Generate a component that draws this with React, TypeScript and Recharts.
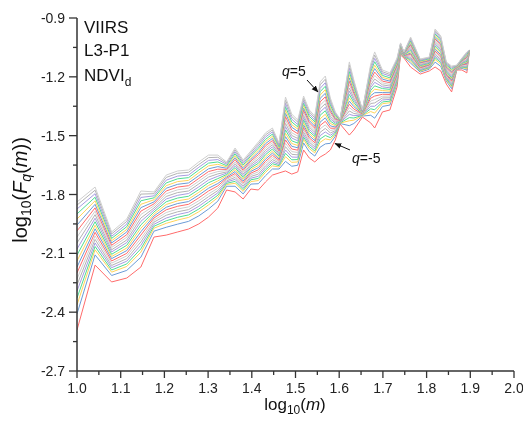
import React from 'react';
import { LineChart, Line, XAxis, YAxis } from 'recharts';

// log10(m) for the scales m = 10..79 that carry the visible vertices
const logM = [1.0, 1.0414, 1.0792, 1.1139, 1.1461, 1.1761, 1.2041, 1.2304, 1.2553, 1.2788, 1.301, 1.3222, 1.3424, 1.3617, 1.3802, 1.3979, 1.415, 1.4314, 1.4472, 1.4624, 1.4771, 1.4914, 1.5051, 1.5185, 1.5315, 1.5441, 1.5563, 1.5682, 1.5798, 1.5911, 1.6021, 1.6232, 1.6335, 1.6532, 1.6721, 1.6812, 1.699, 1.716, 1.7324, 1.7404, 1.7482, 1.7634, 1.7853, 1.8062, 1.8195, 1.8325, 1.8451, 1.8573, 1.8692, 1.8808, 1.8921, 1.8976];

// q values, order of the entries in every scale array below
const qValues = [5, 4.5, 4, 3.5, 3, 2.5, 2, 1.5, 1, 0.5, 0, -0.5, -1, -1.5, -2, -2.5, -3, -3.5, -4, -4.5, -5];

// log10(Fq(m)) at each scale, q = 5 ... -5
const f10 = [-1.838,-1.854,-1.874,-1.899,-1.925,-1.956,-1.986,-2.017,-2.047,-2.078,-2.109,-2.139,-2.170,-2.200,-2.231,-2.261,-2.292,-2.328,-2.363,-2.409,-2.491];
const f11 = [-1.762,-1.778,-1.796,-1.814,-1.832,-1.850,-1.868,-1.885,-1.903,-1.921,-1.939,-1.957,-1.975,-1.993,-2.011,-2.029,-2.047,-2.065,-2.082,-2.108,-2.160];
const f12 = [-1.991,-2.001,-2.013,-2.024,-2.036,-2.047,-2.059,-2.070,-2.082,-2.093,-2.105,-2.116,-2.127,-2.139,-2.150,-2.162,-2.173,-2.185,-2.196,-2.213,-2.246];
const f13 = [-1.925,-1.937,-1.951,-1.964,-1.978,-1.991,-2.005,-2.018,-2.032,-2.045,-2.059,-2.073,-2.086,-2.100,-2.113,-2.127,-2.140,-2.154,-2.167,-2.187,-2.226];
const f14 = [-1.782,-1.798,-1.815,-1.832,-1.850,-1.867,-1.885,-1.902,-1.920,-1.937,-1.955,-1.972,-1.990,-2.007,-2.025,-2.042,-2.059,-2.077,-2.094,-2.120,-2.170];
const f15 = [-1.787,-1.796,-1.807,-1.817,-1.827,-1.838,-1.848,-1.858,-1.869,-1.879,-1.889,-1.900,-1.910,-1.920,-1.931,-1.941,-1.952,-1.962,-1.972,-1.987,-2.017];
const f16 = [-1.701,-1.713,-1.727,-1.741,-1.755,-1.768,-1.782,-1.796,-1.810,-1.823,-1.837,-1.851,-1.865,-1.878,-1.892,-1.906,-1.920,-1.934,-1.947,-1.967,-2.007];
const f17 = [-1.680,-1.692,-1.706,-1.720,-1.734,-1.748,-1.762,-1.776,-1.790,-1.804,-1.818,-1.832,-1.846,-1.860,-1.874,-1.888,-1.902,-1.916,-1.930,-1.951,-1.991];
const f18 = [-1.675,-1.687,-1.701,-1.714,-1.728,-1.741,-1.755,-1.768,-1.782,-1.795,-1.809,-1.823,-1.836,-1.850,-1.863,-1.877,-1.890,-1.904,-1.917,-1.937,-1.976];
const f19 = [-1.634,-1.647,-1.661,-1.675,-1.689,-1.704,-1.718,-1.732,-1.746,-1.761,-1.775,-1.789,-1.803,-1.817,-1.832,-1.846,-1.860,-1.874,-1.888,-1.909,-1.950];
const f20 = [-1.599,-1.612,-1.626,-1.640,-1.654,-1.669,-1.683,-1.697,-1.711,-1.726,-1.740,-1.754,-1.768,-1.782,-1.797,-1.811,-1.825,-1.839,-1.853,-1.874,-1.915];
const f21 = [-1.599,-1.610,-1.622,-1.634,-1.646,-1.658,-1.671,-1.683,-1.695,-1.707,-1.719,-1.731,-1.744,-1.756,-1.768,-1.780,-1.792,-1.804,-1.816,-1.834,-1.869];
const f22 = [-1.634,-1.640,-1.646,-1.653,-1.659,-1.666,-1.672,-1.678,-1.685,-1.691,-1.698,-1.704,-1.711,-1.717,-1.723,-1.730,-1.736,-1.743,-1.749,-1.758,-1.777];
const f23 = [-1.563,-1.572,-1.582,-1.592,-1.602,-1.612,-1.622,-1.633,-1.643,-1.653,-1.663,-1.673,-1.683,-1.693,-1.703,-1.713,-1.723,-1.733,-1.743,-1.758,-1.787];
const f24 = [-1.624,-1.632,-1.641,-1.650,-1.659,-1.668,-1.677,-1.686,-1.695,-1.704,-1.713,-1.722,-1.731,-1.740,-1.748,-1.757,-1.766,-1.775,-1.784,-1.797,-1.823];
const f25 = [-1.578,-1.586,-1.595,-1.603,-1.612,-1.621,-1.629,-1.638,-1.647,-1.656,-1.664,-1.673,-1.682,-1.691,-1.699,-1.708,-1.717,-1.725,-1.734,-1.747,-1.772];
const f26 = [-1.532,-1.542,-1.553,-1.564,-1.575,-1.586,-1.597,-1.608,-1.619,-1.630,-1.641,-1.652,-1.663,-1.674,-1.685,-1.696,-1.707,-1.718,-1.729,-1.745,-1.777];
const f27 = [-1.486,-1.496,-1.507,-1.519,-1.530,-1.541,-1.552,-1.564,-1.575,-1.586,-1.597,-1.609,-1.620,-1.631,-1.642,-1.654,-1.665,-1.676,-1.687,-1.704,-1.736];
const f28 = [-1.461,-1.471,-1.481,-1.492,-1.503,-1.514,-1.525,-1.535,-1.546,-1.557,-1.568,-1.579,-1.589,-1.600,-1.611,-1.622,-1.633,-1.643,-1.654,-1.670,-1.701];
const f29 = [-1.537,-1.543,-1.550,-1.557,-1.564,-1.571,-1.578,-1.585,-1.591,-1.598,-1.605,-1.612,-1.619,-1.626,-1.633,-1.640,-1.647,-1.653,-1.660,-1.670,-1.690];
const f30 = [-1.303,-1.318,-1.335,-1.352,-1.369,-1.386,-1.403,-1.420,-1.437,-1.454,-1.471,-1.488,-1.505,-1.522,-1.539,-1.556,-1.573,-1.590,-1.607,-1.631,-1.680];
const f31 = [-1.390,-1.402,-1.416,-1.430,-1.444,-1.457,-1.471,-1.485,-1.499,-1.512,-1.526,-1.540,-1.554,-1.568,-1.581,-1.595,-1.609,-1.623,-1.636,-1.656,-1.696];
const f32 = [-1.420,-1.431,-1.443,-1.455,-1.466,-1.478,-1.490,-1.502,-1.514,-1.526,-1.538,-1.550,-1.562,-1.574,-1.586,-1.598,-1.610,-1.622,-1.634,-1.651,-1.685];
const f33 = [-1.298,-1.309,-1.321,-1.334,-1.346,-1.359,-1.371,-1.383,-1.396,-1.408,-1.420,-1.433,-1.445,-1.458,-1.470,-1.482,-1.495,-1.507,-1.519,-1.537,-1.573];
const f34 = [-1.369,-1.379,-1.390,-1.401,-1.412,-1.423,-1.434,-1.445,-1.456,-1.467,-1.478,-1.489,-1.500,-1.511,-1.522,-1.533,-1.544,-1.555,-1.566,-1.582,-1.614];
const f35 = [-1.400,-1.409,-1.420,-1.430,-1.441,-1.452,-1.462,-1.473,-1.483,-1.494,-1.504,-1.515,-1.525,-1.536,-1.546,-1.557,-1.567,-1.578,-1.588,-1.604,-1.634];
const f36 = [-1.226,-1.241,-1.259,-1.276,-1.293,-1.310,-1.328,-1.345,-1.362,-1.379,-1.396,-1.414,-1.431,-1.448,-1.465,-1.483,-1.500,-1.517,-1.534,-1.559,-1.609];
const f37 = [-1.196,-1.212,-1.230,-1.248,-1.266,-1.284,-1.302,-1.319,-1.337,-1.355,-1.373,-1.391,-1.409,-1.427,-1.445,-1.463,-1.481,-1.499,-1.516,-1.542,-1.594];
const f38 = [-1.308,-1.319,-1.331,-1.343,-1.354,-1.366,-1.378,-1.390,-1.402,-1.414,-1.426,-1.438,-1.450,-1.462,-1.474,-1.486,-1.498,-1.510,-1.522,-1.539,-1.573];
const f39 = [-1.379,-1.385,-1.391,-1.398,-1.404,-1.411,-1.417,-1.423,-1.430,-1.436,-1.443,-1.449,-1.456,-1.462,-1.468,-1.475,-1.481,-1.488,-1.494,-1.503,-1.522];
const f40 = [-1.415,-1.416,-1.417,-1.418,-1.420,-1.421,-1.422,-1.423,-1.424,-1.425,-1.427,-1.428,-1.429,-1.430,-1.431,-1.432,-1.433,-1.435,-1.436,-1.438,-1.441];
const f42 = [-1.124,-1.139,-1.156,-1.173,-1.189,-1.206,-1.223,-1.240,-1.257,-1.273,-1.290,-1.307,-1.324,-1.340,-1.357,-1.374,-1.391,-1.408,-1.424,-1.449,-1.497];
const f43 = [-1.216,-1.226,-1.238,-1.249,-1.261,-1.272,-1.284,-1.295,-1.307,-1.318,-1.330,-1.341,-1.352,-1.364,-1.375,-1.387,-1.398,-1.410,-1.421,-1.438,-1.471];
const f45 = [-1.369,-1.370,-1.372,-1.374,-1.375,-1.377,-1.379,-1.380,-1.382,-1.383,-1.385,-1.387,-1.388,-1.390,-1.391,-1.393,-1.395,-1.396,-1.398,-1.400,-1.405];
const f47 = [-1.135,-1.147,-1.161,-1.174,-1.188,-1.201,-1.215,-1.228,-1.242,-1.255,-1.269,-1.282,-1.296,-1.309,-1.323,-1.336,-1.350,-1.363,-1.377,-1.396,-1.435];
const f48 = [-1.073,-1.089,-1.106,-1.123,-1.141,-1.158,-1.176,-1.193,-1.211,-1.228,-1.246,-1.263,-1.281,-1.298,-1.316,-1.333,-1.350,-1.368,-1.385,-1.411,-1.461];
const f50 = [-1.165,-1.174,-1.183,-1.193,-1.203,-1.212,-1.222,-1.231,-1.241,-1.251,-1.260,-1.270,-1.280,-1.289,-1.299,-1.308,-1.318,-1.328,-1.337,-1.351,-1.379];
const f52 = [-1.180,-1.188,-1.196,-1.205,-1.213,-1.222,-1.230,-1.239,-1.247,-1.256,-1.264,-1.273,-1.281,-1.290,-1.298,-1.307,-1.315,-1.324,-1.332,-1.344,-1.369];
const f54 = [-1.104,-1.110,-1.117,-1.123,-1.130,-1.137,-1.143,-1.150,-1.157,-1.163,-1.170,-1.177,-1.183,-1.190,-1.197,-1.203,-1.210,-1.217,-1.223,-1.233,-1.252];
const f55 = [-1.027,-1.030,-1.032,-1.035,-1.038,-1.041,-1.043,-1.046,-1.049,-1.052,-1.055,-1.057,-1.060,-1.063,-1.066,-1.069,-1.071,-1.074,-1.077,-1.081,-1.089];
const f56 = [-1.073,-1.074,-1.076,-1.077,-1.078,-1.080,-1.081,-1.083,-1.084,-1.085,-1.087,-1.088,-1.090,-1.091,-1.092,-1.094,-1.095,-1.097,-1.098,-1.100,-1.104];
const f58 = [-0.997,-1.003,-1.010,-1.017,-1.024,-1.031,-1.038,-1.045,-1.051,-1.058,-1.065,-1.072,-1.079,-1.086,-1.093,-1.100,-1.107,-1.113,-1.120,-1.130,-1.150];
const f61 = [-1.109,-1.112,-1.116,-1.119,-1.123,-1.126,-1.129,-1.133,-1.136,-1.140,-1.143,-1.147,-1.150,-1.154,-1.157,-1.161,-1.164,-1.168,-1.171,-1.176,-1.186];
const f64 = [-1.099,-1.102,-1.105,-1.108,-1.111,-1.115,-1.118,-1.121,-1.124,-1.127,-1.131,-1.134,-1.137,-1.140,-1.143,-1.147,-1.150,-1.153,-1.156,-1.161,-1.170];
const f66 = [-0.956,-0.964,-0.973,-0.981,-0.990,-0.999,-1.007,-1.016,-1.025,-1.034,-1.042,-1.051,-1.060,-1.069,-1.077,-1.086,-1.095,-1.103,-1.112,-1.125,-1.150];
const f68 = [-0.992,-0.999,-1.007,-1.015,-1.023,-1.031,-1.039,-1.047,-1.055,-1.063,-1.071,-1.079,-1.087,-1.095,-1.103,-1.111,-1.119,-1.127,-1.135,-1.147,-1.170];
const f70 = [-1.124,-1.129,-1.134,-1.139,-1.144,-1.149,-1.154,-1.159,-1.164,-1.169,-1.174,-1.179,-1.184,-1.190,-1.195,-1.200,-1.205,-1.210,-1.215,-1.222,-1.237];
const f72 = [-1.145,-1.150,-1.156,-1.162,-1.168,-1.174,-1.180,-1.186,-1.192,-1.198,-1.204,-1.210,-1.216,-1.222,-1.228,-1.233,-1.239,-1.245,-1.251,-1.260,-1.277];
const f74 = [-1.140,-1.141,-1.142,-1.143,-1.144,-1.146,-1.147,-1.148,-1.149,-1.150,-1.151,-1.152,-1.153,-1.155,-1.156,-1.157,-1.158,-1.159,-1.160,-1.162,-1.165];
const f76 = [-1.104,-1.106,-1.109,-1.112,-1.115,-1.117,-1.120,-1.123,-1.126,-1.128,-1.131,-1.134,-1.137,-1.139,-1.142,-1.145,-1.148,-1.150,-1.153,-1.157,-1.165];
const f78 = [-1.073,-1.077,-1.082,-1.087,-1.092,-1.097,-1.101,-1.106,-1.111,-1.116,-1.121,-1.125,-1.130,-1.135,-1.140,-1.145,-1.149,-1.154,-1.159,-1.166,-1.180];
const f79 = [-1.063,-1.063,-1.064,-1.064,-1.065,-1.065,-1.066,-1.066,-1.067,-1.067,-1.068,-1.068,-1.069,-1.069,-1.070,-1.070,-1.071,-1.071,-1.072,-1.072,-1.073];

const scaleCols = [f10, f11, f12, f13, f14, f15, f16, f17, f18, f19, f20, f21, f22, f23, f24, f25, f26, f27, f28, f29, f30, f31, f32, f33, f34, f35, f36, f37, f38, f39, f40, f42, f43, f45, f47, f48, f50, f52, f54, f55, f56, f58, f61, f64, f66, f68, f70, f72, f74, f76, f78, f79];

// ticks
const xMajor = [1.0, 1.1, 1.2, 1.3, 1.4, 1.5, 1.6, 1.7, 1.8, 1.9, 2.0];
const xMinor = [1.05, 1.15, 1.25, 1.35, 1.45, 1.55, 1.65, 1.75, 1.85, 1.95];
const yMajor = [-2.7, -2.4, -2.1, -1.8, -1.5, -1.2, -0.9];
const yMinor = [-2.55, -2.25, -1.95, -1.65, -1.35, -1.05];

// colour cycle, counted from q = -5 upward
const palette = ['#ff6b6b', '#6b9bd6', '#ffd45a', '#4fdc93', '#a79ce0', '#b3b3b3', '#cfcfcf'];

const rows = logM.map((x, i) => {
  const r: Record<string, number> = { x };
  qValues.forEach((_q, k) => {
    r['q' + k] = scaleCols[i][k];
  });
  return r;
});

const xTicks = [...xMajor, ...xMinor].sort((a, b) => a - b);
const yTicks = [...yMajor, ...yMinor].sort((a, b) => a - b);

const FONT = '"Liberation Sans", Arial, sans-serif';
const AX = '#333';

const XTick = (props: any) => {
  const { x, y, payload } = props;
  const major = xMajor.includes(payload.value);
  return (
    <g>
      <line x1={x} x2={x} y1={y} y2={y + (major ? 7 : 4)} stroke={AX} strokeWidth={1.3} />
      {major && (
        <text x={x} y={y + 22} textAnchor="middle" fontSize={14} fill="#222" fontFamily={FONT}>
          {payload.value.toFixed(1)}
        </text>
      )}
    </g>
  );
};

const YTick = (props: any) => {
  const { x, y, payload } = props;
  const major = yMajor.includes(payload.value);
  return (
    <g>
      <line x1={x - (major ? 8 : 4)} x2={x} y1={y} y2={y} stroke={AX} strokeWidth={1.3} />
      {major && (
        <text x={x - 12} y={y + 5} textAnchor="end" fontSize={14} fill="#222" fontFamily={FONT}>
          {payload.value.toFixed(1)}
        </text>
      )}
    </g>
  );
};

const W = 515;
const H = 405;

export default function App() {
  return (
    <div style={{ position: 'fixed', left: 8, top: 8, width: W, height: H, fontFamily: FONT }}>
      <style>{'svg,.recharts-wrapper,.recharts-surface{overflow:visible !important}'}</style>
      <LineChart width={W} height={H} data={rows} margin={{ top: 10, right: 9, bottom: 0, left: 0 }}>
        <XAxis
          type="number"
          dataKey="x"
          domain={[1, 2]}
          ticks={xTicks}
          interval={0}
          tick={<XTick />}
          tickLine={false}
          tickSize={0}
          tickMargin={0}
          height={42}
          axisLine={{ stroke: AX, strokeWidth: 1.5 }}
          allowDataOverflow
        />
        <YAxis
          type="number"
          domain={[-2.7, -0.9]}
          ticks={yTicks}
          interval={0}
          tick={<YTick />}
          tickLine={false}
          tickSize={0}
          tickMargin={0}
          width={69}
          axisLine={{ stroke: AX, strokeWidth: 1.5 }}
          allowDataOverflow
        />
        {qValues.map((_q, k) => 20 - k).map((k) => (
          <Line
            key={k}
            type="linear"
            dataKey={'q' + k}
            stroke={palette[(20 - k) % 7]}
            strokeWidth={1}
            dot={false}
            isAnimationActive={false}
          />
        ))}
      </LineChart>
      <svg
        width={W}
        height={H}
        style={{ position: 'absolute', left: 0, top: 0, pointerEvents: 'none', overflow: 'visible' }}
        fontFamily={FONT}
      >
        <defs>
          <marker id="ah" viewBox="0 0 10 10" refX="9" refY="5" markerWidth="7" markerHeight="7" orient="auto">
            <path d="M0,1 L10,5 L0,9 z" fill="#111" />
          </marker>
        </defs>
        <text x={76} y={25} fontSize={17} fill="#111">VIIRS</text>
        <text x={76} y={48} fontSize={17} fill="#111">L3-P1</text>
        <text x={76} y={73} fontSize={17} fill="#111">
          NDVI<tspan fontSize={12} dy={5}>d</tspan>
        </text>
        <text x={274} y={68} fontSize={14} fill="#111">
          <tspan fontStyle="italic">q</tspan>=5
        </text>
        <line x1={299} y1={72} x2={310} y2={84} stroke="#111" strokeWidth={1} markerEnd="url(#ah)" />
        <text x={344} y={155} fontSize={14} fill="#111">
          <tspan fontStyle="italic">q</tspan>=-5
        </text>
        <line x1={342} y1={142} x2={327} y2={135.5} stroke="#111" strokeWidth={1} markerEnd="url(#ah)" />
        <text x={287} y={402} fontSize={17} textAnchor="middle" fill="#111">
          log<tspan fontSize={12} dy={4}>10</tspan>
          <tspan dy={-4}>(</tspan>
          <tspan fontStyle="italic">m</tspan>)
        </text>
        <text transform="translate(19,182) rotate(-90)" fontSize={20} textAnchor="middle" fill="#111">
          log<tspan fontSize={14} dy={4}>10</tspan>
          <tspan dy={-4}>(</tspan>
          <tspan fontStyle="italic">F</tspan>
          <tspan fontSize={14} dy={4} fontStyle="italic">q</tspan>
          <tspan dy={-4}>(</tspan>
          <tspan fontStyle="italic">m</tspan>))
        </text>
      </svg>
    </div>
  );
}
